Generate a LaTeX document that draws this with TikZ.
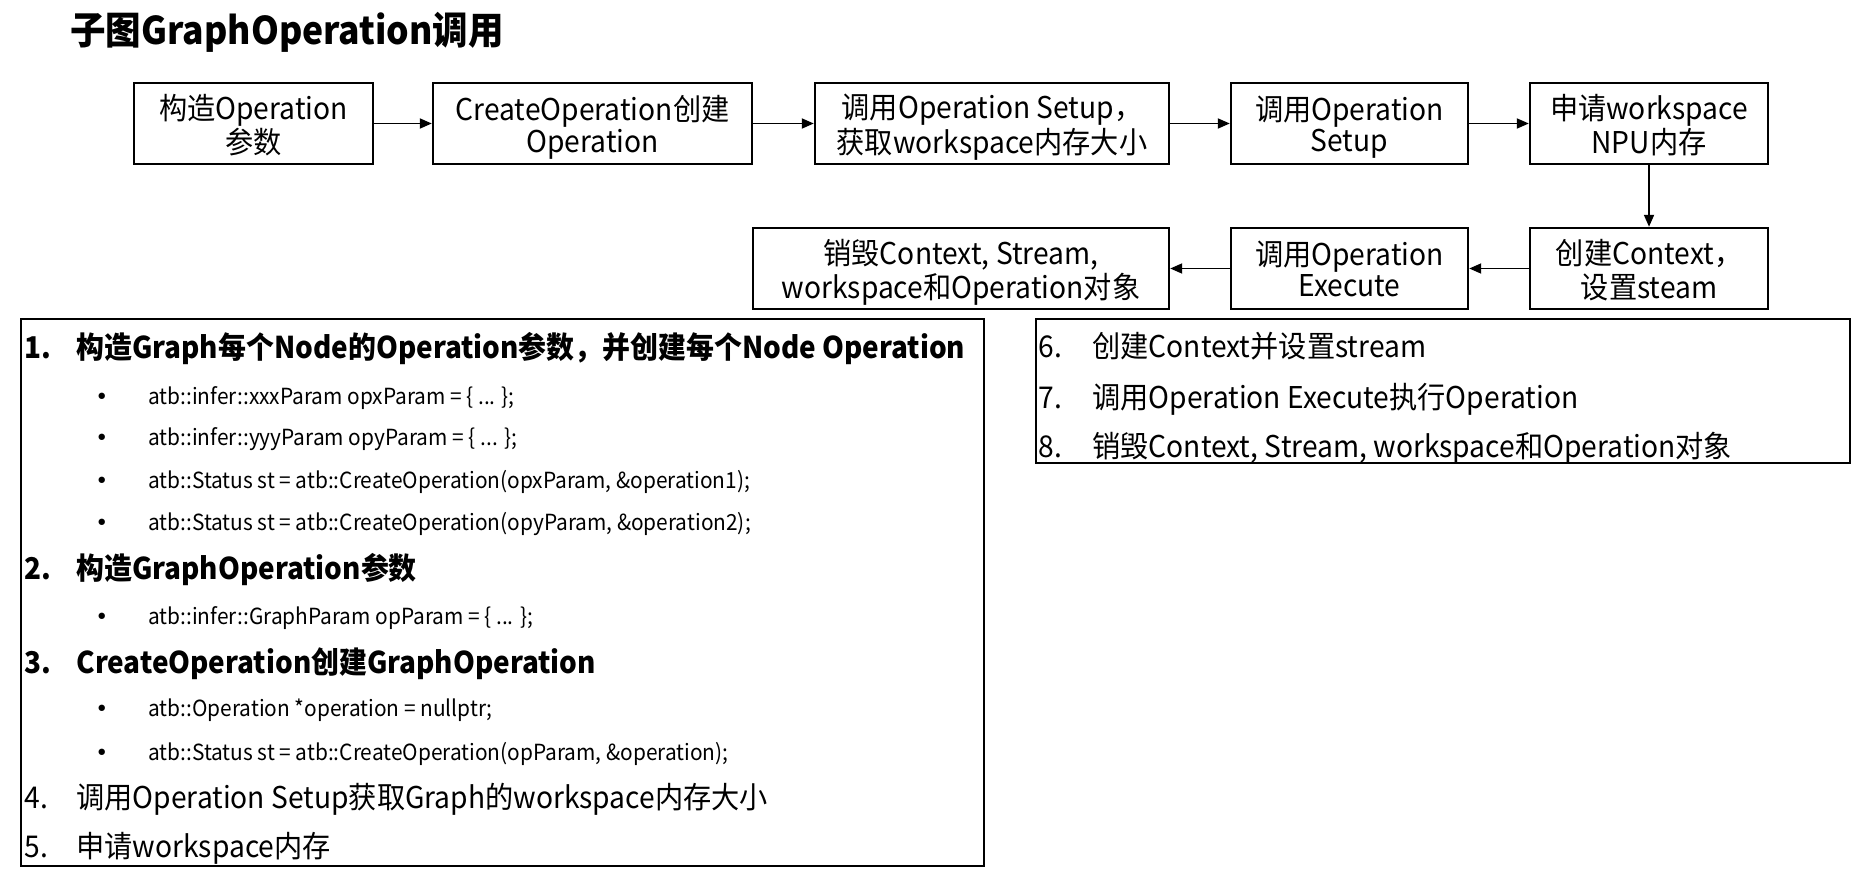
\documentclass[tikz,border=0pt]{standalone}
\usepackage{fontspec}
\setmainfont{Noto Sans CJK SC}[FakeStretch=0.94, BoldFeatures={FakeStretch=0.93}]
\newfontfamily\bulletfont{DejaVu Sans}
\usetikzlibrary{arrows.meta}
\newcommand{\boxtext}[1]{\raisebox{-2.5pt}[\height][\depth]{\begin{tabular}{@{}c@{}}#1\end{tabular}}}
\begin{document}
\begin{tikzpicture}[x=0.5pt,y=-0.5pt,
  flowbox/.style={draw, line width=1.2pt, inner sep=0pt, align=center,
    minimum height=40.5pt, font=\fontsize{15}{15.5}\selectfont},
  flowarrow/.style={line width=0.9pt, -{Triangle[length=6pt,width=5pt]}},
  panel/.style={draw, line width=0.8pt},
  head/.style={anchor=base west, inner sep=0pt, font=\fontsize{15}{18}\selectfont\bfseries},
  plain/.style={anchor=base west, inner sep=0pt, font=\fontsize{15}{18}\selectfont},
  code/.style={anchor=base west, inner sep=0pt, font=\fontsize{11.1}{13}\selectfont},
  dot/.style={anchor=base west, inner sep=0pt, font=\fontsize{11}{13}\bulletfont},
]
\useasboundingbox (0,0) rectangle (1861,877);

\node[anchor=base west, inner sep=0pt, font=\fontsize{19.1}{22}\selectfont\bfseries] (title) at (70,45) {子图GraphOperation调用};

% row 1
\node[flowbox, minimum width=119.5pt] (b1) at (253.5,123.5) {\boxtext{构造Operation\\参数}};
\node[flowbox, minimum width=159.5pt] (b2) at (592.5,123.5) {\boxtext{CreateOperation创建\\Operation}};
\node[flowbox, minimum width=177pt] (b3) at (992,123.5) {\boxtext{调用Operation Setup，\\获取workspace内存大小}};
\node[flowbox, minimum width=118.5pt] (b4) at (1349.5,123.5) {\boxtext{调用Operation\\Setup}};
\node[flowbox, minimum width=119pt] (b5) at (1649,123.5) {\boxtext{申请workspace\\NPU内存}};
% row 2
\node[flowbox, minimum width=119pt] (c1) at (1649,268.5) {\boxtext{创建Context，\\设置steam}};
\node[flowbox, minimum width=118.5pt] (c2) at (1349.5,268.5) {\boxtext{调用Operation\\Execute}};
\node[flowbox, minimum width=208pt] (c3) at (961,268.5) {\boxtext{销毁Context, Stream,\\workspace和Operation对象}};

\draw[flowarrow] (b1) -- (b2);
\draw[flowarrow] (b2) -- (b3);
\draw[flowarrow] (b3) -- (b4);
\draw[flowarrow] (b4) -- (b5);
\draw[flowarrow] (b5) -- (c1);
\draw[flowarrow] (c1) -- (c2);
\draw[flowarrow] (c2) -- (c3);

% panels
\draw[panel] (21,319) rectangle (984,866);
\draw[panel] (1036,319) rectangle (1850,463);

% left list
\node[head] (n1) at (24,358) {1.};
\node[head] (t1) at (76,358) {构造Graph每个Node的Operation参数，并创建每个Node Operation};
\node[dot] (d1) at (95,404) {•};
\node[code] (s1) at (148,404) {atb::infer::xxxParam opxParam = \{ ... \};};
\node[dot] (d2) at (95,445) {•};
\node[code] (s2) at (148,445) {atb::infer::yyyParam opyParam = \{ ... \};};
\node[dot] (d3) at (95,488) {•};
\node[code] (s3) at (148,488) {atb::Status st = atb::CreateOperation(opxParam, \&operation1);};
\node[dot] (d4) at (95,530) {•};
\node[code] (s4) at (148,530) {atb::Status st = atb::CreateOperation(opyParam, \&operation2);};
\node[head] (n2) at (24,579) {2.};
\node[head] (t2) at (76,579) {构造GraphOperation参数};
\node[dot] (d5) at (95,624) {•};
\node[code] (s5) at (148,624) {atb::infer::GraphParam opParam = \{ ... \};};
\node[head] (n3) at (24,673) {3.};
\node[head] (t3) at (76,673) {CreateOperation创建GraphOperation};
\node[dot] (d6) at (95,716) {•};
\node[code] (s6) at (148,716) {atb::Operation *operation = nullptr;};
\node[dot] (d7) at (95,760) {•};
\node[code] (s7) at (148,760) {atb::Status st = atb::CreateOperation(opParam, \&operation);};
\node[plain] (n4) at (24,808) {4.};
\node[plain] (t4) at (76,808) {调用Operation Setup获取Graph的workspace内存大小};
\node[plain] (n5) at (24,857) {5.};
\node[plain] (t5) at (76,857) {申请workspace内存};

% right list
\node[plain] (n6) at (1038,357) {6.};
\node[plain] (t6) at (1092,357) {创建Context并设置stream};
\node[plain] (n7) at (1038,408) {7.};
\node[plain] (t7) at (1092,408) {调用Operation Execute执行Operation};
\node[plain] (n8) at (1038,457) {8.};
\node[plain] (t8) at (1092,457) {销毁Context, Stream, workspace和Operation对象};
\end{tikzpicture}
\end{document}
